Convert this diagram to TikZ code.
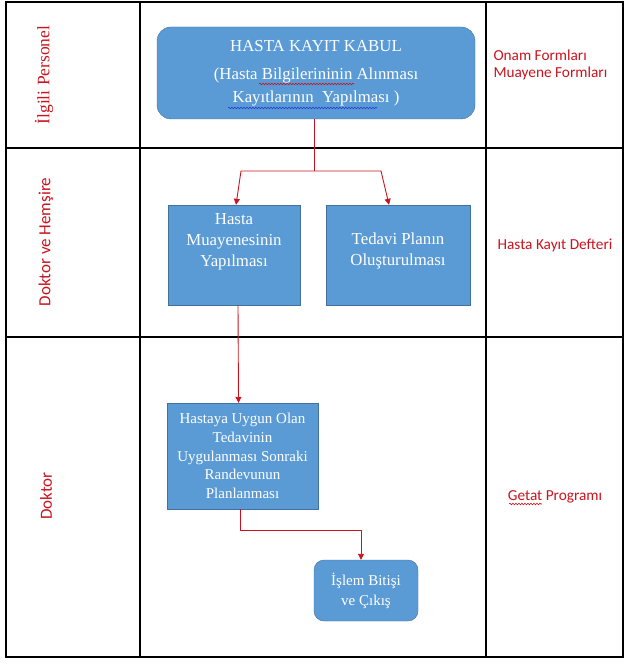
\documentclass[tikz,border=0pt]{standalone}
\usepackage{fontspec}
\setmainfont{Liberation Serif}
\newfontfamily\calibri{Carlito}
\usetikzlibrary{decorations.pathmorphing}
\usetikzlibrary{arrows.meta,positioning,calc}
\definecolor{boxblue}{RGB}{91,155,213}
\definecolor{boxline}{RGB}{65,113,156}
\definecolor{lanered}{RGB}{200,20,30}
\definecolor{spellblue}{RGB}{40,60,220}

\begin{document}
\begin{tikzpicture}[x=1pt,y=-1pt,
  proc/.style={draw=boxline,fill=boxblue,text=white,align=center,inner sep=2pt},
  lane/.style={text=lanered,rotate=90},
  doc/.style={text=lanered,font=\calibri\fontsize{15.3}{17.5}\selectfont},
  flow/.style={draw=lanered,line width=0.9pt,-{Triangle[length=6pt,width=6pt]}},
  wavy/.style={line width=0.6pt,decorate,decoration={snake,amplitude=0.8pt,segment length=3pt}}]
\useasboundingbox (0,0) rectangle (625,668);
% table
\draw[line width=1.2pt] (6,2) rectangle (623,657);
\draw[line width=1.2pt] (140,2) -- (140,657) (486,2) -- (486,657);
\draw[line width=1.2pt] (6,148) -- (623,148) (6,337) -- (623,337);

\node[lane,font=\fontsize{17.5}{20}\selectfont] (personel) at (44,75) {İlgili Personel};
\node[lane,font=\calibri\fontsize{17}{20}\selectfont] (hemsire) at (46,242) {Doktor ve Hemşire};
\node[lane,font=\calibri\fontsize{17}{20}\selectfont] (doktor) at (46,496) {Doktor};

\node[proc,rounded corners=14pt,minimum width=318pt,minimum height=92pt,font=\fontsize{16.8}{23}\selectfont] (kabul) at (316,73) {HASTA KAYIT KABUL\\[5pt](Hasta Bilgilerininin Alınması\\Kayıtlarının~ Yapılması )};
\node[proc,minimum width=132pt,minimum height=100pt,text depth=30pt,font=\fontsize{16.8}{21}\selectfont] (muayene) at (234,255) {Hasta\\Muayenesinin\\Yapılması};
\node[proc,minimum width=144pt,minimum height=100pt,text depth=12pt,font=\fontsize{16.8}{21.5}\selectfont] (tedavi) at (398,255) {Tedavi Planın\\Oluşturulması};
\node[proc,minimum width=151pt,minimum height=106pt,font=\fontsize{15}{18.8}\selectfont] (uygun) at (242.5,456) {Hastaya Uygun Olan\\Tedavinin\\Uygulanması Sonraki\\Randevunun\\Planlanması};
\node[proc,rounded corners=10pt,minimum width=104pt,minimum height=61pt,font=\fontsize{15}{20}\selectfont] (islem) at (366,590.5) {İşlem Bitişi\\ve Çıkış};

\node[doc,anchor=west,align=left] (formlar) at (490,65) {Onam Formları\\Muayene Formları};
\node[doc] (defter) at (555,245) {Hasta Kayıt Defteri};
\node[doc] (getat) at (555,497) {Getat Programı};

% spelling marks
\draw[wavy,draw=lanered] (259,84) -- (354,84);
\draw[wavy,draw=spellblue] (228,108) -- (377,108);
\draw[wavy,draw=lanered] (509,504) -- (542,504);

\coordinate (split) at (314,171);
\draw[draw=lanered,line width=0.9pt] (kabul.south -| split) -- (split);
\draw[flow] (split) -- ++(-73,0) -- ([xshift=2pt]muayene.north);
\draw[flow] (split) -- ++(67,0) -- ([xshift=-9pt]tedavi.north);
\draw[flow] ([xshift=4pt]muayene.south) -- ([xshift=-4pt]uygun.north);
\draw[flow] ([xshift=-2pt]uygun.south) -- ++(0,21) -| ([xshift=-5pt]islem.north);
\end{tikzpicture}
\end{document}
